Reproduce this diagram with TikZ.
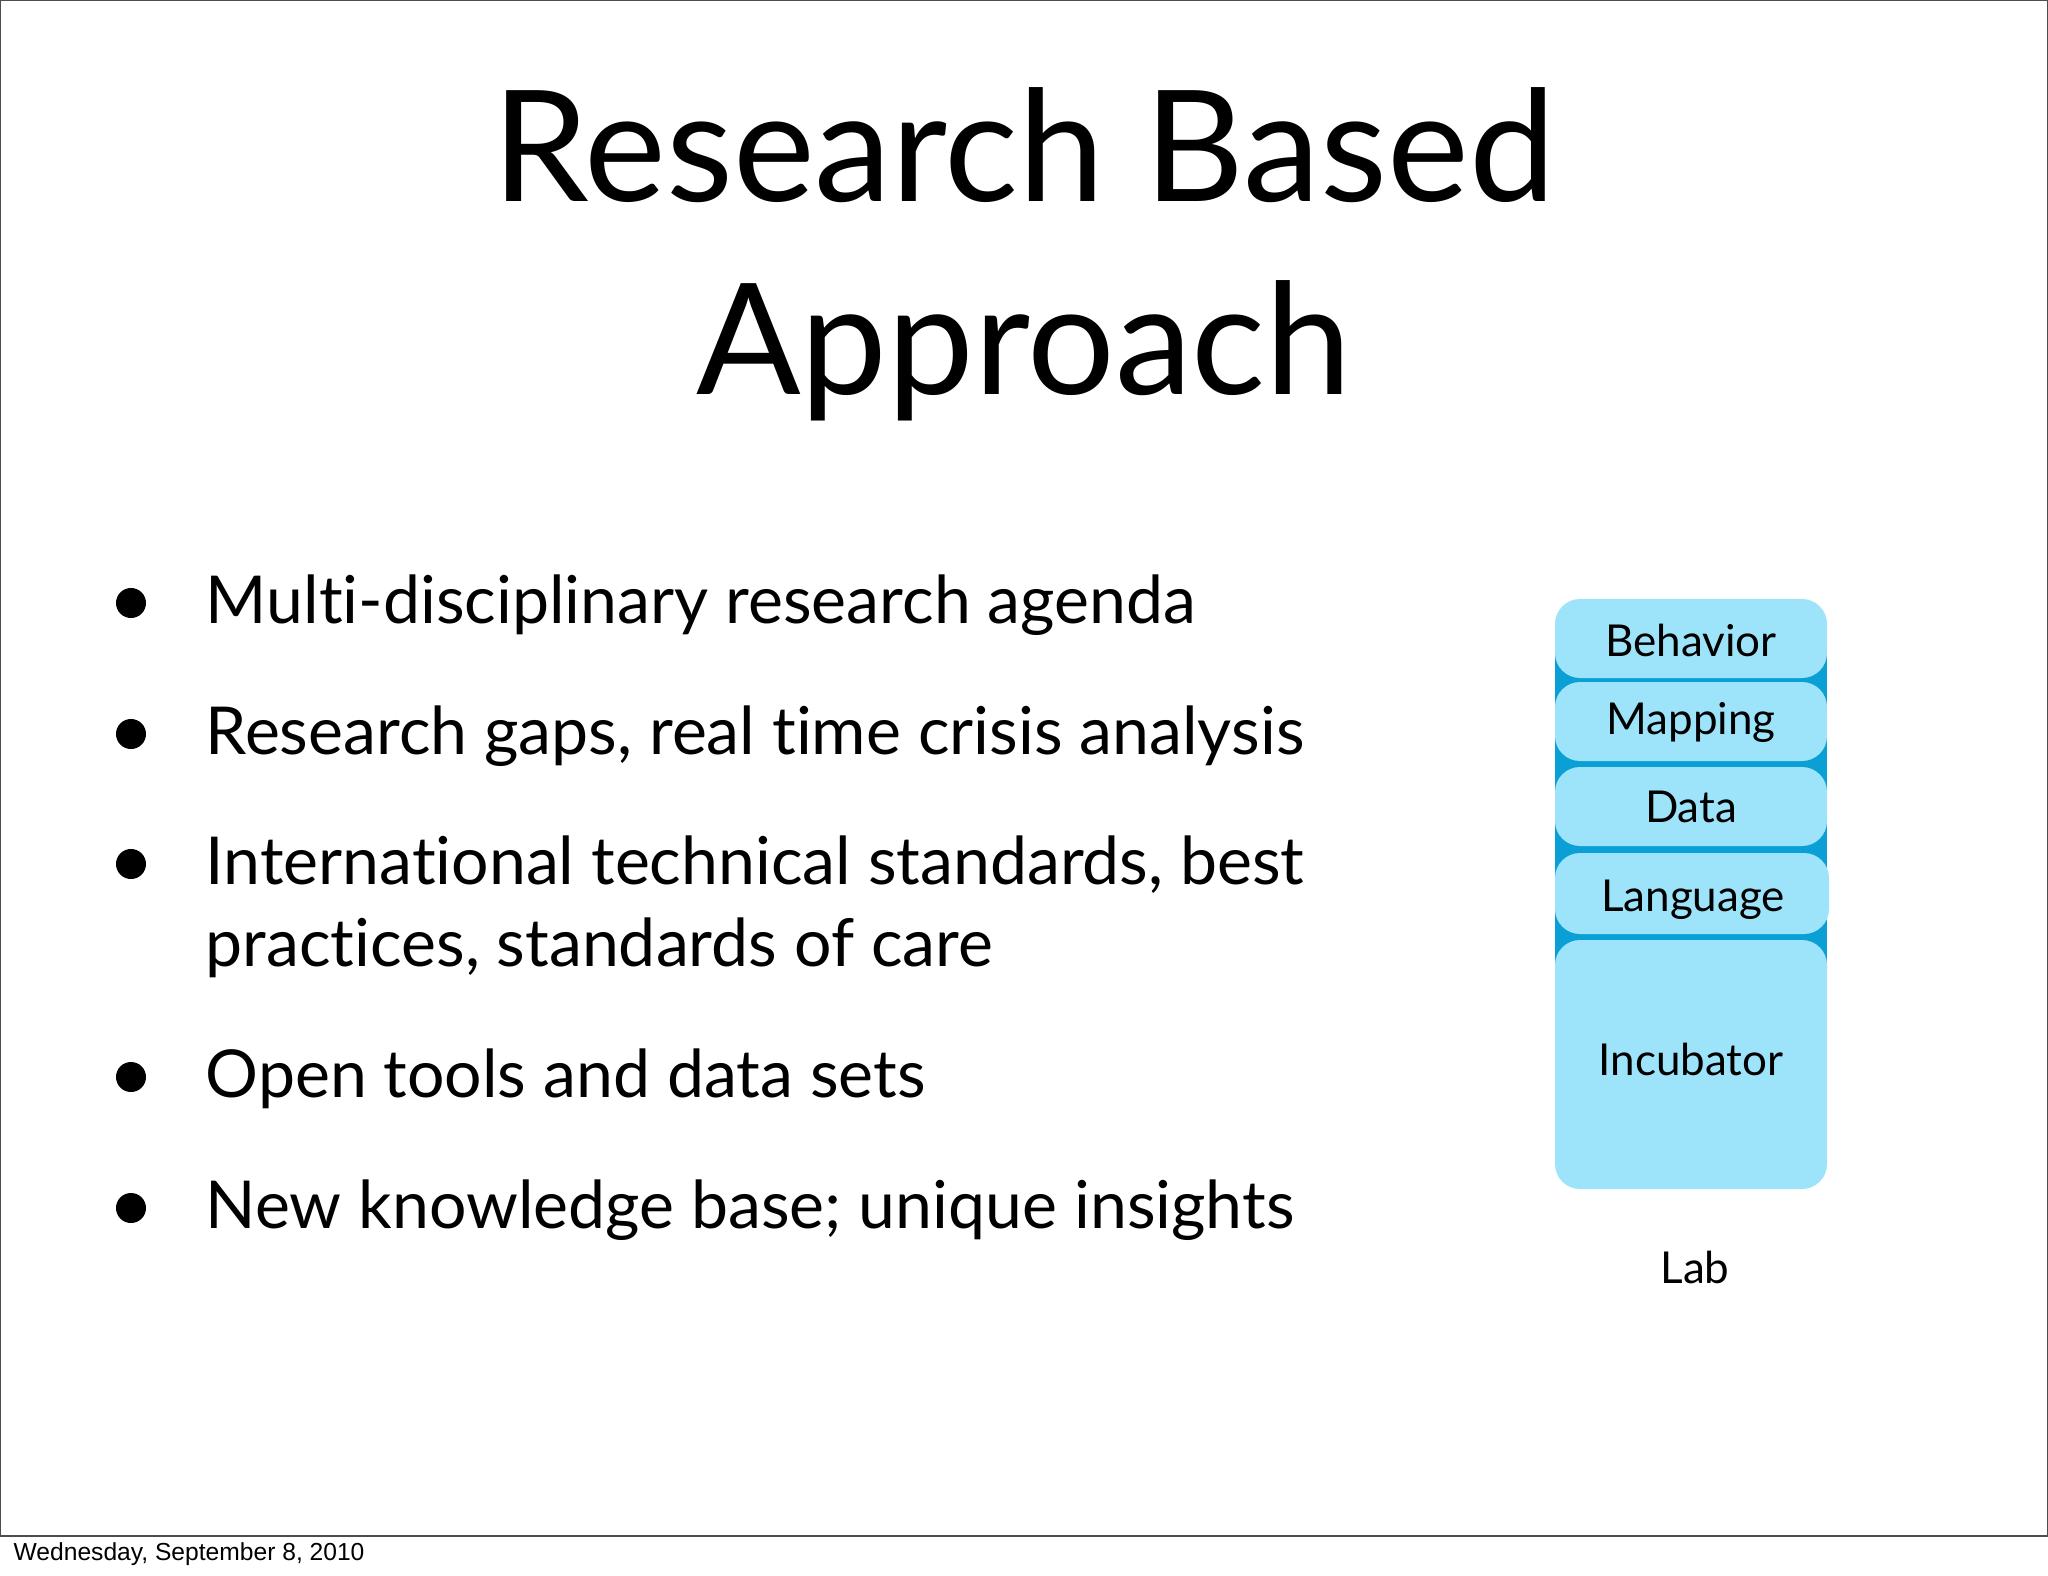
\documentclass[tikz,border=0pt]{standalone}
\usepackage{fontspec}
\setmainfont[RawFeature=-liga]{Lato}
\newfontfamily\footfont{Liberation Sans}
\definecolor{lightb}{HTML}{9DE4FA}
\definecolor{darkb}{HTML}{0AA0D6}
\begin{document}
\begin{tikzpicture}[x=0.01cm,y=-0.01cm,
  btxt/.style={anchor=base west,inner sep=0pt,font=\fontsize{18.8}{22}\selectfont},
  dot/.style={circle,fill=black,inner sep=0pt,minimum size=0.3cm},
  layer/.style={fill=lightb,rounded corners=0.25cm},
  ltxt/.style={font=\fontsize{12.5}{15}\selectfont,inner sep=0pt}]
\useasboundingbox (0,0) rectangle (2048,1576);
\fill[white] (0,0) rectangle (2048,1576);
\draw[line width=0.5pt,gray!60!black] (0,0) rectangle (2048,1536);
\node[font=\footfont\fontsize{7}{8}\selectfont,anchor=west,inner sep=0pt] (footer) at (13,1554) {Wednesday, September 8, 2010};
\node[anchor=base,inner sep=0pt,font=\fontsize{44}{50}\selectfont] (t1) at (1024,202) {Research Based};
\node[anchor=base,inner sep=0pt,font=\fontsize{44}{50}\selectfont] (t2) at (1024,394) {Approach};
\foreach \y/\t [count=\i] in {623/Multi-disciplinary research agenda, 754/{Research gaps, real time crisis analysis}, 884/{International technical standards, best}, 1097/Open tools and data sets, 1228/New knowledge base; unique insights}{
  \node[dot] (d\i) at (131,\y-20) {};
  \node[btxt] (b\i) at (205,\y) {\t};
}
\node[btxt] (b3b) at (205,966) {practices, standards of care};
% stack
\fill[darkb] (1555,640) rectangle (1827,975);
\fill[layer] (1555,940) rectangle (1827,1189);
\fill[layer] (1555,853) rectangle (1829,934);
\fill[layer] (1555,767) rectangle (1827,846);
\fill[layer] (1555,682) rectangle (1827,761);
\fill[layer] (1555,599) rectangle (1827,678);
\node[ltxt] (beh) at (1691,640) {Behavior};
\node[ltxt] (map) at (1691,722) {Mapping};
\node[ltxt] (dat) at (1691,807) {Data};
\node[ltxt] (lan) at (1693,900) {Language};
\node[ltxt] (inc) at (1691,1059) {Incubator};
\node[ltxt] (lab) at (1695,1267) {Lab};
\end{tikzpicture}
\end{document}
